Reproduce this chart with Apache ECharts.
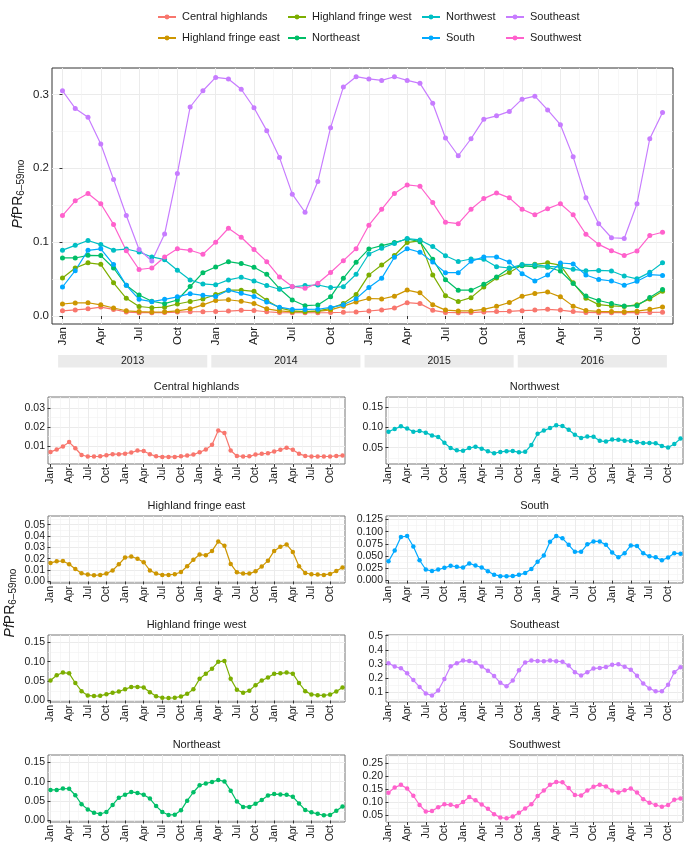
<!DOCTYPE html>
<html><head><meta charset="utf-8">
<script src="https://cdn.jsdelivr.net/npm/echarts@6/dist/echarts.min.js"></script>
<style>html,body{margin:0;padding:0;background:#fff}#c{width:685px;height:846px}</style>
</head><body><div id="c"></div>
<script>
// ---------- data ----------
const regions = ['Central highlands','Highland fringe east','Highland fringe west','Northeast','Northwest','South','Southeast','Southwest'];
const monthTickLabels = ['Jan','Apr','Jul','Oct'];
const years = ['2013','2014','2015','2016'];

const centralHighlands = [0.0070,0.0082,0.0098,0.0121,0.0089,0.0054,0.0046,0.0046,0.0047,0.0053,0.0058,0.0058,
 0.0061,0.0067,0.0077,0.0075,0.0058,0.0047,0.0044,0.0044,0.0044,0.0047,0.0051,0.0056,
 0.0068,0.0082,0.0107,0.0181,0.0168,0.0077,0.0049,0.0046,0.0047,0.0056,0.0060,0.0063,
 0.0072,0.0081,0.0091,0.0081,0.0060,0.0049,0.0046,0.0046,0.0046,0.0046,0.0049,0.0051];
const highlandFringeEast = [0.0163,0.0177,0.0180,0.0151,0.0109,0.0071,0.0060,0.0054,0.0057,0.0069,0.0097,0.0151,
 0.0211,0.0220,0.0200,0.0169,0.0097,0.0069,0.0057,0.0057,0.0063,0.0083,0.0134,0.0191,
 0.0237,0.0231,0.0269,0.0351,0.0314,0.0154,0.0080,0.0069,0.0069,0.0089,0.0131,0.0183,
 0.0269,0.0306,0.0326,0.0260,0.0134,0.0074,0.0063,0.0060,0.0057,0.0066,0.0091,0.0123];
const highlandFringeWest = [0.0515,0.0650,0.0720,0.0700,0.0450,0.0240,0.0129,0.0112,0.0120,0.0163,0.0197,0.0230,
 0.0290,0.0350,0.0350,0.0335,0.0214,0.0110,0.0069,0.0060,0.0069,0.0103,0.0170,0.0290,
 0.0557,0.0690,0.0820,0.0995,0.1020,0.0557,0.0274,0.0197,0.0249,0.0394,0.0515,0.0590,
 0.0690,0.0700,0.0720,0.0690,0.0450,0.0240,0.0154,0.0137,0.0129,0.0154,0.0230,0.0335];
const northeast = [0.0786,0.0786,0.0822,0.0818,0.0650,0.0416,0.0285,0.0200,0.0167,0.0217,0.0400,0.0587,
 0.0664,0.0736,0.0710,0.0660,0.0565,0.0370,0.0217,0.0140,0.0149,0.0260,0.0510,0.0727,
 0.0908,0.0953,0.0994,0.1043,0.1007,0.0768,0.0490,0.0350,0.0350,0.0430,0.0530,0.0646,
 0.0680,0.0670,0.0660,0.0610,0.0440,0.0270,0.0210,0.0170,0.0135,0.0140,0.0250,0.0360];
const northwest = [0.0892,0.0957,0.1022,0.0967,0.0892,0.0907,0.0867,0.0800,0.0763,0.0619,0.0489,0.0434,
 0.0423,0.0489,0.0525,0.0475,0.0413,0.0363,0.0395,0.0413,0.0420,0.0385,0.0398,0.0565,
 0.0840,0.0917,0.0983,0.1049,0.1030,0.0940,0.0815,0.0738,0.0772,0.0768,0.0668,0.0650,
 0.0698,0.0695,0.0672,0.0663,0.0632,0.0612,0.0617,0.0610,0.0542,0.0503,0.0591,0.0722];
const south = [0.0393,0.0614,0.0890,0.0910,0.0696,0.0416,0.0226,0.0194,0.0226,0.0260,0.0303,0.0280,
 0.0265,0.0350,0.0307,0.0266,0.0190,0.0120,0.0090,0.0090,0.0092,0.0117,0.0152,0.0235,
 0.0386,0.0510,0.0795,0.0912,0.0863,0.0730,0.0587,0.0587,0.0740,0.0800,0.0800,0.0730,
 0.0574,0.0474,0.0556,0.0718,0.0705,0.0556,0.0495,0.0474,0.0416,0.0470,0.0560,0.0550];
const southeast = [0.305,0.281,0.269,0.233,0.185,0.136,0.090,0.0745,0.111,0.193,0.283,0.305,
 0.323,0.321,0.307,0.282,0.251,0.2145,0.165,0.1405,0.182,0.255,0.310,0.324,
 0.321,0.319,0.324,0.319,0.315,0.288,0.241,0.217,0.240,0.2665,0.271,0.277,
 0.2936,0.2977,0.279,0.259,0.2155,0.160,0.125,0.106,0.105,0.152,0.240,0.2755];
const southwest = [0.136,0.156,0.166,0.152,0.124,0.0885,0.063,0.065,0.080,0.091,0.089,0.0836,
 0.100,0.1188,0.1066,0.090,0.0736,0.0528,0.040,0.0375,0.0443,0.059,0.075,0.091,
 0.123,0.1445,0.166,0.1775,0.1757,0.1536,0.127,0.125,0.1445,0.159,0.1667,0.160,
 0.1445,0.137,0.1454,0.152,0.137,0.1107,0.097,0.0885,0.0818,0.088,0.109,0.1134];

const seriesValues = [centralHighlands, highlandFringeEast, highlandFringeWest, northeast, northwest, south, southeast, southwest];

// tick values
const mainYTicks = [0, 0.1, 0.2, 0.3];
const mainYMinor = [0.05, 0.15, 0.25];
const chTicks = [0.01, 0.02, 0.03];
const hfeTicks = [0, 0.01, 0.02, 0.03, 0.04, 0.05];
const hfwTicks = [0, 0.05, 0.10, 0.15];
const neTicks = [0, 0.05, 0.10, 0.15];
const nwTicks = [0.05, 0.10, 0.15];
const sTicks = [0, 0.025, 0.05, 0.075, 0.1, 0.125];
const seTicks = [0.1, 0.2, 0.3, 0.4, 0.5];
const swTicks = [0.05, 0.10, 0.15, 0.20, 0.25];

// ---------- styles / layout ----------
const colors = ['#F8766D','#CD9600','#7CAE00','#00BE67','#00BFC4','#00A9FF','#C77CFF','#FF61CC'];
const FONT = "'Liberation Sans', Arial, Helvetica, sans-serif";
const TXT = '#1a1a1a';
const GRIDC = '#ebebeb';

const majorMonths = []; for (let m = 0; m < 48; m += 3) majorMonths.push(m);
const minorMonths = majorMonths.map(m => m + 1.5);
function mids(t){ const step = t[1]-t[0]; const out=[]; out.push(t[0]-step/2); for (const v of t) out.push(+(v+step/2).toFixed(5)); return out; }

const panels = [
  {idx:0, col:0, row:0, ymin:0.0007, ymax:0.0356, ticks:chTicks, dec:2},
  {idx:1, col:0, row:1, ymin:-0.0014, ymax:0.0577, ticks:hfeTicks, dec:2},
  {idx:2, col:0, row:2, ymin:-0.004, ymax:0.1688, ticks:hfwTicks, dec:2},
  {idx:3, col:0, row:3, ymin:-0.004, ymax:0.1688, ticks:neTicks, dec:2},
  {idx:4, col:1, row:0, ymin:0.010, ymax:0.174, ticks:nwTicks, dec:2},
  {idx:5, col:1, row:1, ymin:-0.005, ymax:0.132, ticks:sTicks, dec:3},
  {idx:6, col:1, row:2, ymin:0.029, ymax:0.505, ticks:seTicks, dec:1},
  {idx:7, col:1, row:3, ymin:0.023, ymax:0.281, ticks:swTicks, dec:2}
];
const colLeft = [48, 386], panelW = 297;
const rowTop = [397, 516, 635, 755], panelH = 67;

const grids = [{left:52, top:68, width:621, height:256, show:true, borderColor:'#333', borderWidth:1, backgroundColor:'#fff'}];
panels.forEach(p => grids.push({left:colLeft[p.col], top:rowTop[p.row], width:panelW, height:panelH, show:true, borderColor:'#777', borderWidth:1, backgroundColor:'#fff'}));

function xPair(gi, min, max, fs){
  return [
    {type:'value', gridIndex:gi, min, max,
     axisLine:{show:false},
     axisTick:{show:true, length:3, lineStyle:{color:'#333'}, customValues:majorMonths},
     axisLabel:{show:true, rotate:90, fontSize:fs, color:TXT, fontFamily:FONT, margin:3, customValues:majorMonths,
       formatter: v => monthTickLabels[Math.round(v/3)%4]},
     splitLine:{show:true, lineStyle:{color:GRIDC, width:1}}},
    {type:'value', gridIndex:gi, min, max,
     axisLine:{show:false}, axisTick:{show:false, customValues:minorMonths}, axisLabel:{show:false, customValues:minorMonths},
     splitLine:{show:true, lineStyle:{color:'#f1f1f1', width:0.6}}}
  ];
}
function yPair(gi, min, max, ticks, minor, dec, fs){
  return [
    {type:'value', gridIndex:gi, min, max,
     axisLine:{show:false},
     axisTick:{show:true, length:3, lineStyle:{color:'#333'}, customValues:ticks},
     axisLabel:{show:true, fontSize:fs, color:TXT, fontFamily:FONT, margin:3, customValues:ticks,
       formatter: v => (+v).toFixed(dec)},
     splitLine:{show:true, lineStyle:{color:GRIDC, width:1}}},
    {type:'value', gridIndex:gi, min, max,
     axisLine:{show:false}, axisTick:{show:false, customValues:minor}, axisLabel:{show:false, customValues:minor},
     splitLine:{show:true, lineStyle:{color:'#f1f1f1', width:0.6}}}
  ];
}

const xAxes = [...xPair(0, -0.82, 47.82, 11.5)];
const yAxes = [...yPair(0, -0.0108, 0.3358, mainYTicks, mainYMinor, 1, 11.5)];
panels.forEach((p, k) => {
  xAxes.push(...xPair(k+1, -0.4, 47.4, 10.5));
  yAxes.push(...yPair(k+1, p.ymin, p.ymax, p.ticks, mids(p.ticks), p.dec, 10.5));
});

const series = [];
regions.forEach((name, r) => {
  series.push({type:'line', name, xAxisIndex:0, yAxisIndex:0, symbol:'circle', symbolSize:5, showSymbol:true,
    lineStyle:{width:1.2, color:colors[r]}, itemStyle:{color:colors[r]},
    data: seriesValues[r].map((v, i) => [i, v]), animation:false, z:3});
});
panels.forEach((p, k) => {
  series.push({type:'line', name:regions[p.idx], xAxisIndex:2*(k+1), yAxisIndex:2*(k+1), symbol:'circle', symbolSize:4.5,
    lineStyle:{width:1.2, color:colors[p.idx]}, itemStyle:{color:colors[p.idx]},
    data: seriesValues[p.idx].map((v, i) => [i, v]), animation:false, z:3});
});

const legendCols = [[regions[0], regions[1]], [regions[2], regions[3]], [regions[4], regions[5]], [regions[6], regions[7]]];
const legendLeft = [157, 287, 421, 505];
const legends = legendCols.map((d, k) => ({data:d, orient:'vertical', left:legendLeft[k], top:11.5, padding:0,
  itemWidth:18, itemHeight:6, itemGap:10, selectedMode:false,
  textStyle:{fontSize:11, color:TXT, fontFamily:FONT, padding:[0,0,0,1]}}));

const chart = echarts.init(document.getElementById('c'), null, {renderer:'canvas'});
chart.setOption({
  animation:false, backgroundColor:'#fff',
  grid: grids, xAxis: xAxes, yAxis: yAxes, series, legend: legends
});

// annotations: strips, titles, y-axis titles
const g = [];
years.forEach((y, k) => {
  const x0 = chart.convertToPixel({xAxisIndex:0}, 12*k - 0.34);
  const x1 = chart.convertToPixel({xAxisIndex:0}, 12*k + 11.34);
  g.push({type:'rect', shape:{x:x0, y:355, width:x1-x0, height:12.5}, style:{fill:'#ebebeb'}, silent:true});
  g.push({type:'text', x:(x0+x1)/2, y:361.5, style:{text:y, fill:TXT, fontSize:10.5, fontFamily:FONT, align:'center', verticalAlign:'middle'}, silent:true});
});
panels.forEach(p => {
  g.push({type:'text', x:colLeft[p.col] + panelW/2, y:rowTop[p.row] - 10, style:{text:regions[p.idx], fill:TXT, fontSize:11, fontFamily:FONT, align:'center', verticalAlign:'middle'}, silent:true});
});
const yRich = {
  it:{fontStyle:'italic', fontSize:14, fontFamily:FONT, fill:TXT, lineHeight:16},
  n:{fontSize:14, fontFamily:FONT, fill:TXT, lineHeight:16},
  sub:{fontSize:10, fontFamily:FONT, fill:TXT, lineHeight:6, verticalAlign:'bottom'}
};
g.push({type:'text', x:18, y:194, rotation:Math.PI/2, style:{text:'{it|Pf}{n|PR}{sub|6–59mo}', rich:yRich, align:'center', verticalAlign:'middle'}, silent:true});
g.push({type:'text', x:10, y:603, rotation:Math.PI/2, style:{text:'{it|Pf}{n|PR}{sub|6–59mo}', rich:yRich, align:'center', verticalAlign:'middle'}, silent:true});
chart.setOption({graphic: g});
</script>
</body></html>
